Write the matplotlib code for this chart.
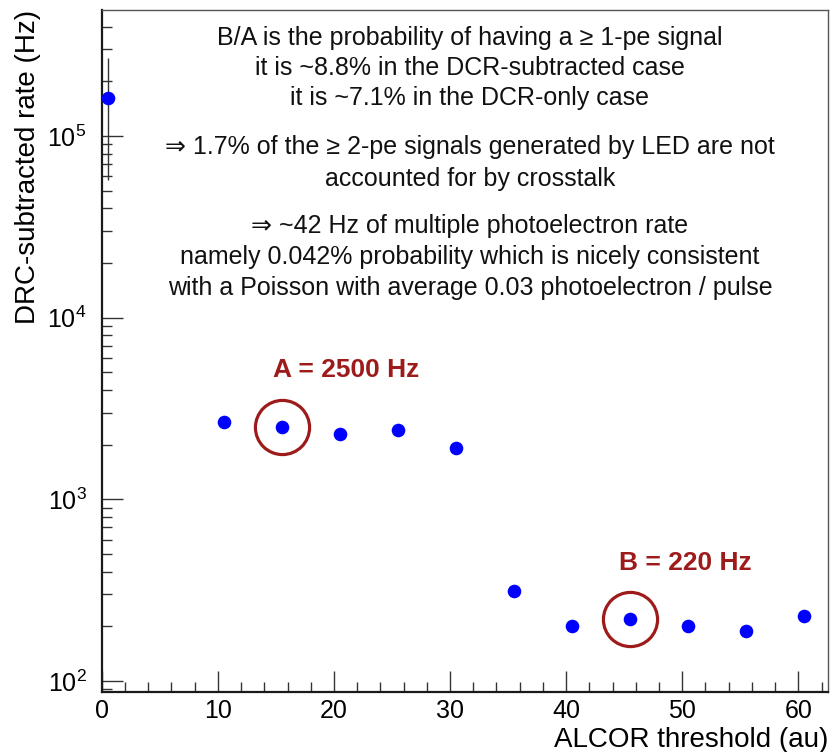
"""
DRC-subtracted rate vs ALCOR threshold, with B/A annotation.
Log-scale scatter in a ROOT-like frame.
"""

import math
import matplotlib
matplotlib.use("Agg")
import matplotlib.pyplot as plt
from matplotlib.ticker import LogLocator, MultipleLocator, FuncFormatter

plt.rcParams["font.family"] = ["Liberation Sans", "DejaVu Sans"]
plt.rcParams["mathtext.fontset"] = "custom"
plt.rcParams["mathtext.rm"] = "Liberation Sans"
plt.rcParams["mathtext.it"] = "Liberation Sans:italic"

# --- Data ---
threshold = [0.5, 10.5, 15.5, 20.5, 25.5, 30.5, 35.5, 40.5, 45.5, 50.5, 55.5, 60.5]
rate = [1.625e5, 2670, 2510, 2290, 2400, 1920, 314, 201, 219, 201, 188, 228]
rate_err = [1.05e5, 0, 0, 0, 0, 0, 0, 0, 0, 0, 0, 0]

# points singled out with a circle
marked_x = [15.5, 45.5]
marked_y = [2510, 219]
marked_labels = ["A = 2500 Hz", "B = 220 Hz"]

note_lines = [
    "B/A is the probability of having a \u2265 1-pe signal",
    "it is ~8.8% in the DCR-subtracted case",
    "it is ~7.1% in the DCR-only case",
    "\u21d2 1.7% of the \u2265 2-pe signals generated by LED are not",
    "accounted for by crosstalk",
    "\u21d2 ~42 Hz of multiple photoelectron rate",
    "namely 0.042% probability which is nicely consistent",
    "with a Poisson with average 0.03 photoelectron / pulse",
]

DARKRED = "#9e1b1b"

fig = plt.figure(figsize=(8.36, 7.52), dpi=100)
ax = fig.add_axes([0.1217, 0.0802, 0.8687, 0.9065])

# error bar on the first point only (the others are hidden by the markers)
ax.errorbar(threshold[:1], rate[:1], yerr=rate_err[:1], fmt="none",
            ecolor="#333333", elinewidth=1.0, capsize=0, zorder=2)
ax.plot(threshold, rate, "o", color="#0000ff", markersize=9.8,
        markeredgewidth=0, zorder=3)
ax.plot(marked_x, marked_y, "o", markersize=39, fillstyle="none",
        markeredgecolor=DARKRED, markeredgewidth=2.3, zorder=4)

ax.set_yscale("log")
ax.set_xlim(0, 62.55)
ax.set_ylim(87.3, 4.94e5)

# --- ROOT-like frame and ticks ---
for side in ("left", "bottom"):
    ax.spines[side].set_linewidth(1.6)
    ax.spines[side].set_color("#1a1a1a")
for side in ("top", "right"):
    ax.spines[side].set_linewidth(1.0)
    ax.spines[side].set_color("#555555")

ax.xaxis.set_major_locator(MultipleLocator(10))
ax.xaxis.set_minor_locator(MultipleLocator(2))
ax.yaxis.set_major_locator(LogLocator(base=10, numticks=10))
ax.yaxis.set_minor_locator(LogLocator(base=10, subs=range(2, 10), numticks=20))
ax.yaxis.set_major_formatter(FuncFormatter(lambda v, p: r"$10^{%d}$" % round(math.log10(v))))
ax.yaxis.set_minor_formatter(FuncFormatter(lambda v, p: ""))

ax.tick_params(which="both", direction="in", top=False, right=False,
               color="#333333", width=1.0)
ax.tick_params(which="major", length=15)
ax.tick_params(which="minor", length=7.5)
ax.tick_params(axis="x", which="major", labelsize=18, pad=5)
ax.tick_params(axis="y", which="major", labelsize=18, pad=11)

ax.set_xlabel("ALCOR threshold (au)", fontsize=20, loc="right")
ax.xaxis.set_label_coords(1.0, -0.071)
ax.xaxis.label.set_va("center")
ax.set_ylabel("DRC-subtracted rate (Hz)", fontsize=20, loc="top")
ax.yaxis.set_label_coords(-0.1015, 1.0)
ax.yaxis.label.set_va("center")

# --- Annotations ---
label_pos = [(0.337, 0.472), (0.803, 0.189)]
for (lx, ly), txt in zip(label_pos, marked_labels):
    ax.text(lx, ly, txt, transform=ax.transAxes, ha="center", va="center",
            fontsize=19, fontweight="bold", color=DARKRED)

line_y = [38, 68, 98.3, 146.7, 179, 226, 257.5, 288.5]  # pixel rows in the 752 px image
for yp, txt in zip(line_y, note_lines):
    ax.text(0.507, (691.7 - yp) / 681.7, txt, transform=ax.transAxes,
            ha="center", va="center", fontsize=18, color="#111111")

fig.savefig("out.png", dpi=100)
